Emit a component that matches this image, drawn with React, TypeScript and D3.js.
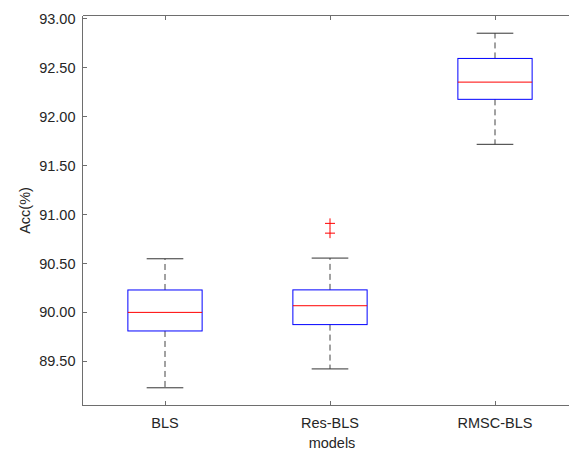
import React, { useEffect, useRef } from 'react';
import * as d3 from 'd3';

const categories = ['BLS', 'Res-BLS', 'RMSC-BLS'];
const q1 = [89.81, 89.875, 92.178];
const medians = [90.0, 90.068, 92.354];
const q3 = [90.229, 90.23, 92.596];
const whiskerLow = [89.229, 89.422, 91.718];
const whiskerHigh = [90.548, 90.555, 92.854];
const outliers = [[], [90.91, 90.81], []];
const yTicks = [89.5, 90.0, 90.5, 91.0, 91.5, 92.0, 92.5, 93.0];

const App: React.FC = () => {
  const svgRef = useRef<SVGSVGElement>(null);

  useEffect(() => {
    if (!svgRef.current) return;
    const width = 569;
    const height = 453;
    const font = '"Liberation Sans", Arial, sans-serif';
    const axisColor = '#6e6e6e';
    const textColor = '#262626';

    const svg = d3.select(svgRef.current);
    svg.selectAll('*').remove();
    svg.attr('width', width).attr('height', height);

    const x = d3.scaleLinear().domain([0.5, 3.5]).range([82.5, 577.5]);
    const y = d3.scaleLinear().domain([89.048, 93.035]).range([405.5, 15.5]);

    const [x0, x1] = x.range();
    const [yb, yt] = y.range();

    // axes box (left, top, bottom; right is outside the figure)
    const g = svg.append('g').attr('shape-rendering', 'crispEdges');
    g.append('line').attr('x1', x0).attr('x2', x0).attr('y1', yt).attr('y2', yb).attr('stroke', axisColor);
    g.append('line').attr('x1', x0).attr('x2', x1).attr('y1', yt).attr('y2', yt).attr('stroke', axisColor);
    g.append('line').attr('x1', x0).attr('x2', x1).attr('y1', yb).attr('y2', yb).attr('stroke', axisColor);

    // y ticks
    yTicks.forEach(t => {
      g.append('line')
        .attr('x1', x0).attr('x2', x0 + 4.5)
        .attr('y1', y(t)).attr('y2', y(t))
        .attr('stroke', axisColor);
      svg.append('text')
        .attr('x', x0 - 7)
        .attr('y', y(t))
        .attr('dy', '0.35em')
        .attr('text-anchor', 'end')
        .attr('font-family', font)
        .attr('font-size', 14.5)
        .attr('fill', textColor)
        .text(d3.format('.2f')(t));
    });

    // x ticks
    categories.forEach((c, i) => {
      const cx = x(i + 1);
      g.append('line').attr('x1', cx).attr('x2', cx).attr('y1', yb).attr('y2', yb - 4.5).attr('stroke', axisColor);
      g.append('line').attr('x1', cx).attr('x2', cx).attr('y1', yt).attr('y2', yt + 4.5).attr('stroke', axisColor);
      svg.append('text')
        .attr('x', cx)
        .attr('y', 428)
        .attr('text-anchor', 'middle')
        .attr('font-family', font)
        .attr('font-size', 14.5)
        .attr('fill', textColor)
        .text(c);
    });

    svg.append('text')
      .attr('x', x(2) + 2)
      .attr('y', 448)
      .attr('text-anchor', 'middle')
      .attr('font-family', font)
      .attr('font-size', 14.5)
      .attr('fill', textColor)
      .text('models');

    svg.append('text')
      .attr('transform', `translate(30,${(yt + yb) / 2}) rotate(-90)`)
      .attr('text-anchor', 'middle')
      .attr('font-family', font)
      .attr('font-size', 14.5)
      .attr('fill', textColor)
      .text('Acc(%)');

    // boxes
    const boxHalf = 0.225;
    const capHalf = 0.111;
    const bg = svg.append('g');
    categories.forEach((c, i) => {
      const p = i + 1;
      const cx = x(p);
      // whiskers
      bg.append('line').attr('x1', cx).attr('x2', cx).attr('y1', y(q3[i])).attr('y2', y(whiskerHigh[i]))
        .attr('stroke', '#444').attr('stroke-dasharray', '6,4');
      bg.append('line').attr('x1', cx).attr('x2', cx).attr('y1', y(q1[i])).attr('y2', y(whiskerLow[i]))
        .attr('stroke', '#444').attr('stroke-dasharray', '6,4');
      // caps
      [whiskerLow[i], whiskerHigh[i]].forEach(v => {
        bg.append('line').attr('x1', x(p - capHalf)).attr('x2', x(p + capHalf))
          .attr('y1', y(v)).attr('y2', y(v)).attr('stroke', '#333');
      });
      // box
      bg.append('rect')
        .attr('x', x(p - boxHalf))
        .attr('y', y(q3[i]))
        .attr('width', x(p + boxHalf) - x(p - boxHalf))
        .attr('height', y(q1[i]) - y(q3[i]))
        .attr('fill', 'none')
        .attr('stroke', '#0000ff');
      // median
      bg.append('line').attr('x1', x(p - boxHalf)).attr('x2', x(p + boxHalf))
        .attr('y1', y(medians[i])).attr('y2', y(medians[i])).attr('stroke', '#ff0000');
      // outliers
      outliers[i].forEach(v => {
        bg.append('path')
          .attr('d', `M${cx - 5},${y(v)}H${cx + 5}M${cx},${y(v) - 5}V${y(v) + 5}`)
          .attr('stroke', '#ff0000')
          .attr('fill', 'none');
      });
    });
  }, []);

  return (
    <div style={{ position: 'absolute', left: 0, top: 0 }}>
      <svg ref={svgRef}></svg>
    </div>
  );
};

export default App;
